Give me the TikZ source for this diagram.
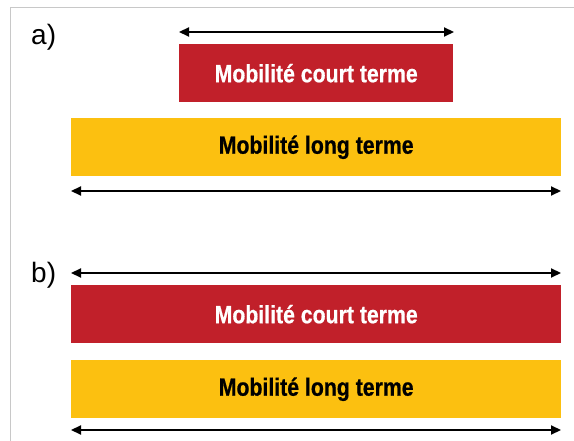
\documentclass[tikz,border=0pt]{standalone}
\usepackage{fontspec}
\setmainfont{Liberation Sans}
\newfontfamily\condbold[FakeStretch=0.85,FakeBold=0.6]{Liberation Sans Bold}
\usetikzlibrary{arrows.meta,calc}
\definecolor{cred}{HTML}{C1202A}
\definecolor{cyellow}{HTML}{FCC010}
\definecolor{cframe}{HTML}{C8C8C8}
\tikzset{
  bar/.style={minimum height=58pt, inner sep=0pt, anchor=north west, font=\condbold\fontsize{25}{27}\selectfont},
  redbar/.style={bar, fill=cred, text=white},
  yellowbar/.style={bar, fill=cyellow, text=black},
  span/.style={line width=2.2pt, {Triangle[length=10pt,width=9pt]}-{Triangle[length=10pt,width=9pt]}},
  lab/.style={anchor=base west, font=\fontsize{28}{30}\selectfont, inner sep=0pt}
}
\begin{document}
\begin{tikzpicture}[x=1pt,y=-1pt]
\useasboundingbox (0,0) rectangle (574,441);
\draw[cframe, line width=1pt] (10,441) -- (10,8) -- (574,8);
\node[lab] (la) at (31,45) {a)};
\node[redbar, minimum width=274pt] (ra) at (179,44) {Mobilité court terme};
\node[yellowbar, minimum width=490pt] (ya) at (71,118) {Mobilité long terme};
\coordinate (a1l) at (179,32); \coordinate (a1r) at (454,32);
\coordinate (a2l) at (71,191); \coordinate (a2r) at (561,191);
\draw[span] (a1l) -- (a1r);
\draw[span] (a2l) -- (a2r);
\node[lab] (lb) at (31,283) {b)};
\node[redbar, minimum width=490pt] (rb) at (71,285) {Mobilité court terme};
\node[yellowbar, minimum width=490pt] (yb) at (71,360) {Mobilité long terme};
\coordinate (b1l) at (71,273); \coordinate (b1r) at (561,273);
\coordinate (b2l) at (71,430); \coordinate (b2r) at (561,430);
\draw[span] (b1l) -- (b1r);
\draw[span] (b2l) -- (b2r);
\end{tikzpicture}
\end{document}
